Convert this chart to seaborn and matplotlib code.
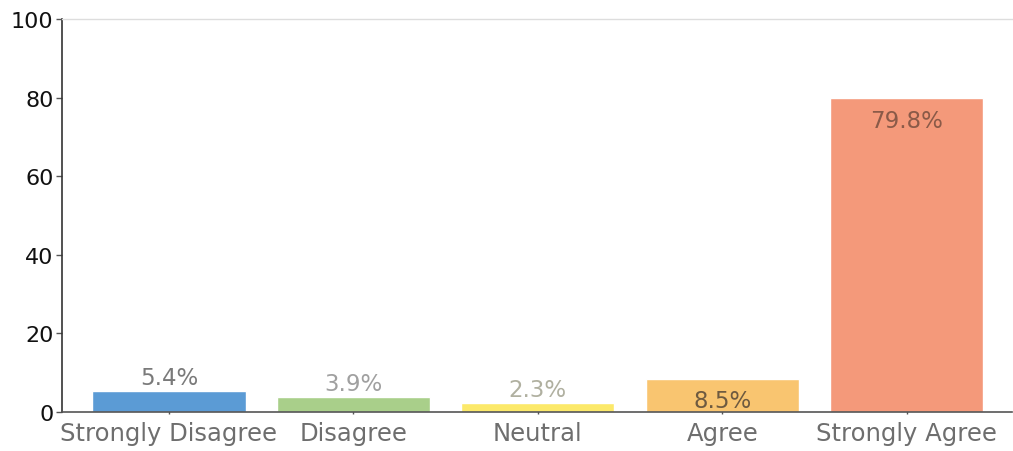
import matplotlib
matplotlib.use("Agg")
import matplotlib.pyplot as plt
import seaborn as sns
import pandas as pd

categories = ["Strongly Disagree", "Disagree", "Neutral", "Agree", "Strongly Agree"]
values = [5.4, 3.9, 2.3, 8.5, 79.8]
labels = ["5.4%", "3.9%", "2.3%", "8.5%", "79.8%"]
colors = ["#5b9bd5", "#a9cf8a", "#fce96a", "#f9c570", "#f4997a"]
label_colors = ["#7a7a7a", "#a0a0a0", "#b0b0a0", "#6e5a40", "#8a5a48"]
label_inside = [False, False, False, True, True]
yticks = [0, 20, 40, 60, 80, 100]

sns.set_theme(style="white")
plt.rcParams["font.family"] = ["DejaVu Sans"]

df = pd.DataFrame({"category": categories, "value": values})

fig = plt.figure(figsize=(10.13, 4.52), dpi=100)
ax = fig.add_axes([0.0612, 0.0863, 0.9378, 0.8695])
sns.barplot(data=df, x="category", y="value", hue="category", palette=colors,
            legend=False, width=0.83, saturation=1, ax=ax)

ax.set_ylim(0, 100)
ax.set_xlim(-0.58, 4.57)
ax.set_yticks(yticks)
ax.set_yticklabels([str(t) for t in yticks], fontsize=16, color="#111111")
ax.set_xlabel("")
ax.set_ylabel("")
ax.tick_params(axis="x", labelsize=17.5, labelcolor="#6e6e6e", length=3, width=1,
               color="#555555", pad=5, direction="inout")
ax.tick_params(axis="y", length=4, width=1, color="#555555", pad=2, left=True, direction="out")
ax.tick_params(axis="x", bottom=True)

ax.spines["right"].set_visible(False)
ax.spines["top"].set_color("#dddddd")
ax.spines["top"].set_linewidth(1)
ax.spines["left"].set_color("#333333")
ax.spines["left"].set_linewidth(1.2)
ax.spines["bottom"].set_color("#555555")
ax.spines["bottom"].set_linewidth(1.2)

for i, (v, lab, c, inside) in enumerate(zip(values, labels, label_colors, label_inside)):
    if inside:
        ax.annotate(lab, (i, v), xytext=(0, -7.5), textcoords="offset points",
                    ha="center", va="top", fontsize=16.5, color=c)
    else:
        ax.annotate(lab, (i, v), xytext=(0, 1.5), textcoords="offset points",
                    ha="center", va="bottom", fontsize=16.5, color=c)

fig.savefig("out.png", dpi=100)
